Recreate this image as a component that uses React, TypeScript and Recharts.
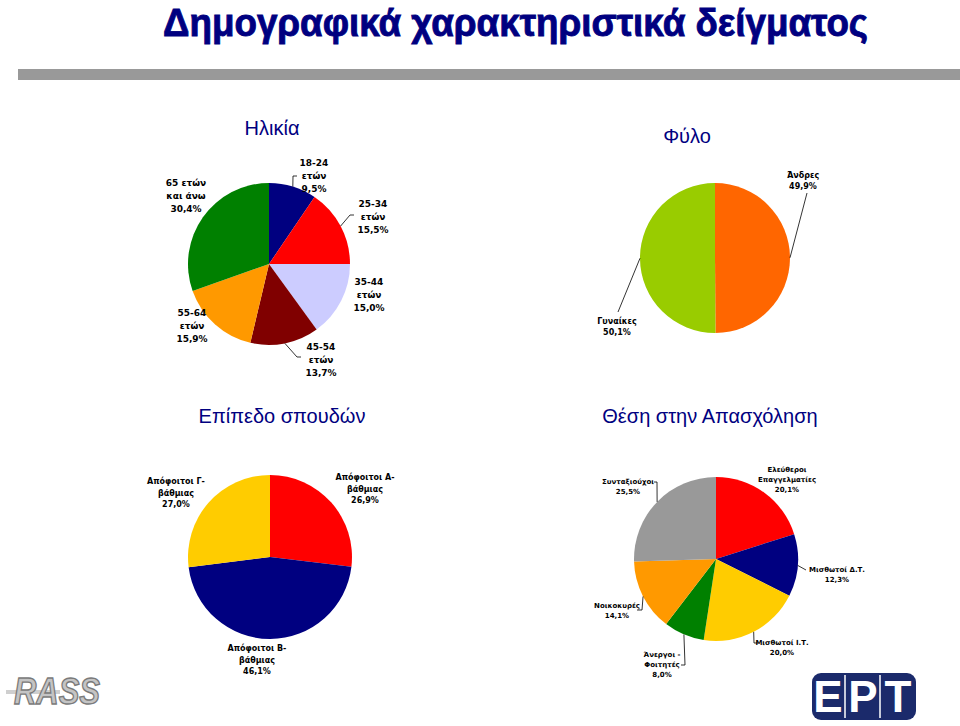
import React from 'react';
import { PieChart, Pie, Cell } from 'recharts';

// ---------- DATA ----------
const mainTitle = 'Δημογραφικά χαρακτηριστικά δείγματος';

const ageTitle = 'Ηλικία';
const ageCategories = ['18-24\nετών', '25-34\nετών', '35-44\nετών', '45-54\nετών', '55-64\nετών', '65 ετών\nκαι άνω'];
const ageValues = [9.5, 15.5, 15.0, 13.7, 15.9, 30.4];
const ageColors = ['#000080', '#FF0000', '#CCCCFF', '#800000', '#FF9900', '#008000'];

const sexTitle = 'Φύλο';
const sexCategories = ['Άνδρες', 'Γυναίκες'];
const sexValues = [49.9, 50.1];
const sexColors = ['#FF6600', '#99CC00'];

const eduTitle = 'Επίπεδο σπουδών';
const eduCategories = ['Απόφοιτοι Α-\nβάθμιας', 'Απόφοιτοι Β-\nβάθμιας', 'Απόφοιτοι Γ-\nβάθμιας'];
const eduValues = [26.9, 46.1, 27.0];
const eduColors = ['#FF0000', '#000080', '#FFCC00'];

const jobTitle = 'Θέση στην Απασχόληση';
const jobCategories = ['Ελεύθεροι\nΕπαγγελματίες', 'Μισθωτοί Δ.Τ.', 'Μισθωτοί Ι.Τ.', 'Άνεργοι -\nΦοιτητές', 'Νοικοκυρές', 'Συνταξιούχοι'];
const jobValues = [20.1, 12.3, 20.0, 8.0, 14.1, 25.5];
const jobColors = ['#FF0000', '#000080', '#FFCC00', '#008000', '#FF9900', '#999999'];

// ---------- LAYOUT (label placement relative to pie centre) ----------
type LabelLayout = { dx: number; dy: number; leader?: [number, number][] };

const ageLabelLayout: LabelLayout[] = [
  { dx: 45, dy: -101, leader: [[24, -88], [28, -88]] },
  { dx: 104, dy: -60, leader: [[81, -49], [85, -49]] },
  { dx: 100, dy: 18 },
  { dx: 52, dy: 83, leader: [[28, 93], [32, 93]] },
  { dx: -77, dy: 49 },
  { dx: -83, dy: -81 },
];
const sexLabelLayout: LabelLayout[] = [
  { dx: 88, dy: -83, leader: [[92, -65]] },
  { dx: -98, dy: 63, leader: [[-97, 54]] },
];
const eduLabelLayout: LabelLayout[] = [
  { dx: 95, dy: -80 },
  { dx: -13, dy: 91 },
  { dx: -94, dy: -76 },
];
const jobLabelLayout: LabelLayout[] = [
  { dx: 71, dy: -89 },
  { dx: 121, dy: 11, leader: [[90, 11]] },
  { dx: 66, dy: 84, leader: [[38, 84], [42, 84]] },
  { dx: -54, dy: 96, leader: [[-31, 106], [-35, 106]] },
  { dx: -99, dy: 47, leader: [[-74, 51], [-79, 51]] },
  { dx: -88, dy: -77, leader: [[-59, -77], [-62, -77]] },
];

const LABEL_FONT = '"DejaVu Sans", Verdana, sans-serif';
const TITLE_FONT = '"Liberation Sans", Arial, sans-serif';
const NAVY = '#000080';

const fmt = (v: number) => v.toFixed(1).replace('.', ',') + '%';

function makeLabel(names: string[], values: number[], layout: LabelLayout[], fontSize: number, lineH: number) {
  return (props: any) => {
    const { cx, cy, midAngle, outerRadius, index } = props;
    const L = layout[index];
    if (!L) return null;
    const lines = [...names[index].split('\n'), fmt(values[index])];
    const RAD = Math.PI / 180;
    const ex = cx + outerRadius * Math.cos(-midAngle * RAD);
    const ey = cy + outerRadius * Math.sin(-midAngle * RAD);
    const pts = L.leader ? [[ex, ey], ...L.leader.map(([x, y]) => [cx + x, cy + y])] : null;
    return (
      <g key={`lbl-${index}`}>
        {pts && (
          <polyline
            points={pts.map((p) => p.join(',')).join(' ')}
            fill="none"
            stroke="#000"
            strokeWidth={0.8}
          />
        )}
        <text
          textAnchor="middle"
          dominantBaseline="central"
          fontFamily={LABEL_FONT}
          fontSize={fontSize}
          fontWeight="bold"
          fill="#000"
        >
          {lines.map((t, i) => (
            <tspan key={i} x={cx + L.dx} y={cy + L.dy + i * lineH}>
              {t}
            </tspan>
          ))}
        </text>
      </g>
    );
  };
}

const toData = (names: string[], values: number[]) => names.map((n, i) => ({ name: n, value: values[i] }));

export default function App() {
  return (
    <div style={{ position: 'absolute', left: 0, top: 0, width: 960, height: 726, background: '#fff', overflow: 'hidden' }}>
      {/* Decorations & titles */}
      <svg width={960} height={726} style={{ position: 'absolute', left: 0, top: 0 }}>
        <text
          x={163}
          y={36}
          textLength={705}
          lengthAdjust="spacingAndGlyphs"
          fontFamily='"Liberation Sans Narrow", "Liberation Sans", Arial, sans-serif'
          fontWeight="bold"
          fontSize={39}
          fill={NAVY}
          stroke={NAVY}
          strokeWidth={0.9}
        >
          {mainTitle}
        </text>
        <rect x={18} y={69} width={942} height={11} fill="#999999" />

        <text x={272} y={128} textAnchor="middle" dominantBaseline="central" fontFamily={TITLE_FONT} fontSize={20} fill={NAVY}>
          {ageTitle}
        </text>
        <text x={687} y={136} textAnchor="middle" dominantBaseline="central" fontFamily={TITLE_FONT} fontSize={20} fill={NAVY}>
          {sexTitle}
        </text>
        <text x={282} y={416} textAnchor="middle" dominantBaseline="central" fontFamily={TITLE_FONT} fontSize={20} fill={NAVY}>
          {eduTitle}
        </text>
        <text x={710} y={416} textAnchor="middle" dominantBaseline="central" fontFamily={TITLE_FONT} fontSize={20} fill={NAVY}>
          {jobTitle}
        </text>

        {/* RASS logo */}
        <line x1={6} y1={692} x2={60} y2={692} stroke="#cfcfcf" strokeWidth={4} />
        <text
          x={14}
          y={704}
          textLength={86}
          lengthAdjust="spacingAndGlyphs"
          fontFamily='"Liberation Sans", Arial, sans-serif'
          fontStyle="italic"
          fontWeight="bold"
          fontSize={36}
          fill="#c4c4c4"
          stroke="#7a7a7a"
          strokeWidth={1.4}
        >
          RASS
        </text>

        {/* ΕΡΤ logo */}
        <rect x={812} y={673} width={104} height={47} rx={9} fill="#1B2A6B" />
        <line x1={845} y1={675} x2={845} y2={718} stroke="#fff" strokeWidth={1.5} />
        <line x1={880} y1={675} x2={880} y2={718} stroke="#fff" strokeWidth={1.5} />
        {[['Ε', 828], ['Ρ', 863], ['Τ', 898]].map(([t, x]) => (
          <text
            key={String(t)}
            x={Number(x)}
            y={712}
            textAnchor="middle"
            fontFamily='"Liberation Sans", Arial, sans-serif'
            fontWeight="bold"
            fontSize={44}
            fill="#fff"
          >
            {t}
          </text>
        ))}
      </svg>

      <div style={{ position: 'absolute', left: 0, top: 0 }}>
        <PieChart width={960} height={726} margin={{ top: 0, right: 0, bottom: 0, left: 0 }}>
          <Pie
            data={toData(ageCategories, ageValues)}
            dataKey="value"
            nameKey="name"
            cx={269}
            cy={264}
            outerRadius={81}
            startAngle={90}
            endAngle={-270}
            stroke="none"
            isAnimationActive={false}
            labelLine={false}
            label={makeLabel(ageCategories, ageValues, ageLabelLayout, 9, 13)}
          >
            {ageColors.map((c, i) => (
              <Cell key={i} fill={c} />
            ))}
          </Pie>
          <Pie
            data={toData(sexCategories, sexValues)}
            dataKey="value"
            nameKey="name"
            cx={715}
            cy={258}
            outerRadius={75}
            startAngle={90}
            endAngle={-270}
            stroke="none"
            isAnimationActive={false}
            labelLine={false}
            label={makeLabel(sexCategories, sexValues, sexLabelLayout, 8, 11)}
          >
            {sexColors.map((c, i) => (
              <Cell key={i} fill={c} />
            ))}
          </Pie>
          <Pie
            data={toData(eduCategories, eduValues)}
            dataKey="value"
            nameKey="name"
            cx={270}
            cy={557}
            outerRadius={82}
            startAngle={90}
            endAngle={-270}
            stroke="none"
            isAnimationActive={false}
            labelLine={false}
            label={makeLabel(eduCategories, eduValues, eduLabelLayout, 8, 11.5)}
          >
            {eduColors.map((c, i) => (
              <Cell key={i} fill={c} />
            ))}
          </Pie>
          <Pie
            data={toData(jobCategories, jobValues)}
            dataKey="value"
            nameKey="name"
            cx={716}
            cy={559}
            outerRadius={82}
            startAngle={90}
            endAngle={-270}
            stroke="none"
            isAnimationActive={false}
            labelLine={false}
            label={makeLabel(jobCategories, jobValues, jobLabelLayout, 7, 10)}
          >
            {jobColors.map((c, i) => (
              <Cell key={i} fill={c} />
            ))}
          </Pie>
        </PieChart>
      </div>
    </div>
  );
}
